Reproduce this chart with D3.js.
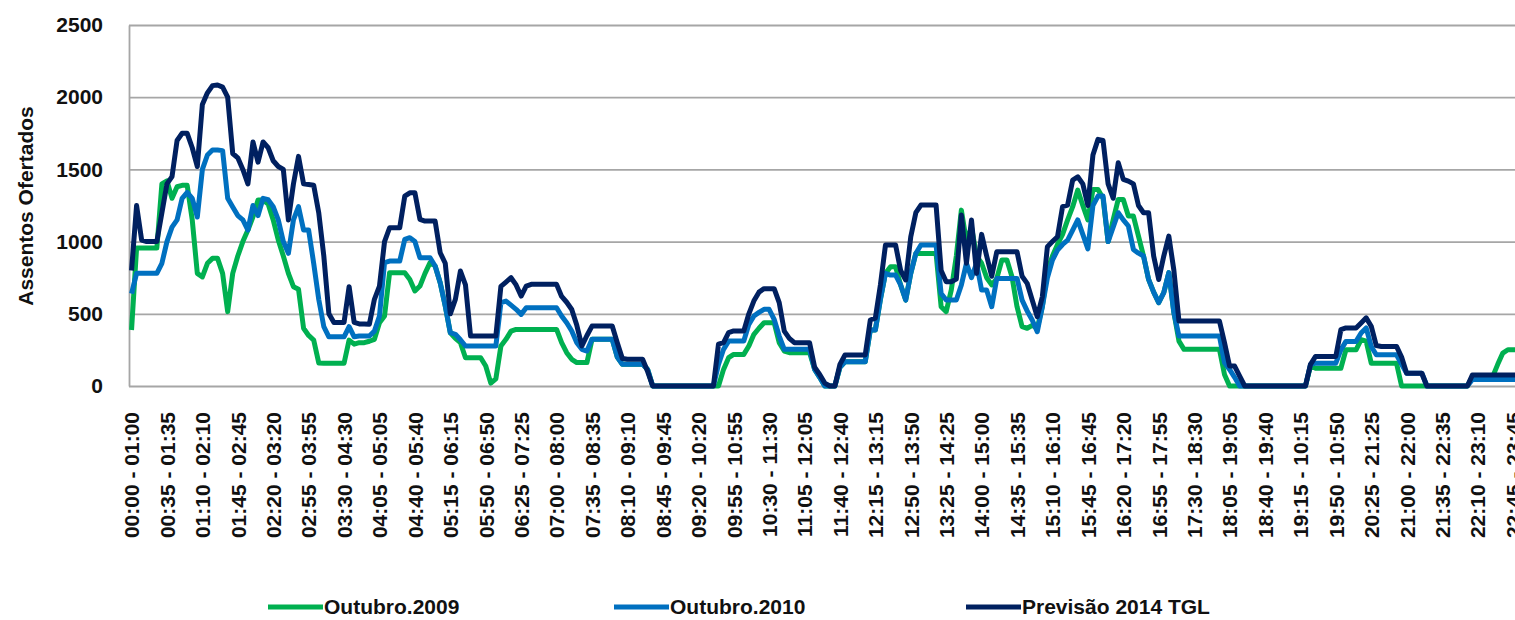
<!DOCTYPE html>
<html>
<head>
<meta charset="utf-8">
<script src="https://cdn.jsdelivr.net/npm/d3@7"></script>
<style>
body { margin: 0; background: #fff; }
svg { display: block; font-family: "Liberation Sans", Arial, sans-serif; font-weight: bold; }
</style>
</head>
<body>
<div id="chart"></div>
<script>
// categories: 5-minute windows, "HH:MM - HH+1:MM"
var categories = d3.range(277).map(function(i) {
    var h = Math.floor(i / 12), m = (i % 12) * 5;
    var pad = function(n) { return (n < 10 ? "0" : "") + n; };
    return pad(h) + ":" + pad(m) + " - " + pad(h + 1) + ":" + pad(m);
});

// one label every 7 categories (as printed on the original, typos included)
var tickLabels = [
    "00:00 - 01:00", "00:35 - 01:35", "01:10 - 02:10", "01:45 - 02:45", "02:20 - 03:20",
    "02:55 - 03:55", "03:30 - 04:30", "04:05 - 05:05", "04:40 - 05:40", "05:15 - 06:15",
    "05:50 - 06:50", "06:25 - 07:25", "07:00 - 08:00", "07:35 - 08:35", "08:10 - 09:10",
    "08:45 - 09:45", "09:20 - 10:20", "09:55 - 10:55", "10:30 - 11:30", "11:05 - 12:05",
    "11:40 - 12:40", "12:15 - 13:15", "12:50 - 13:50", "13:25 - 14:25", "14:00 - 15:00",
    "14:35 - 15:35", "15:10 - 16:10", "15:45 - 16:45", "16:20 - 17:20", "16:55 - 17:55",
    "17:30 - 18:30", "18:05 - 19:05", "18:40 - 19:40", "19:15 - 10:15", "19:50 - 10:50",
    "20:25 - 21:25", "21:00 - 22:00", "21:35 - 22:35", "22:10 - 23:10", "22:45 - 23:45"
];

var yTicks = [0, 500, 1000, 1500, 2000, 2500];

// Outubro.2009
var out2009 = [
    388, 955, 955, 955, 955, 955, 1400, 1420, 1300, 1380, 1390, 1390,
    1150, 780, 755, 850, 884, 884, 780, 515, 780, 900, 1000, 1080,
    1172, 1288, 1288, 1260, 1150, 1011, 900, 780, 688, 670, 400, 350,
    318, 160, 157, 157, 157, 157, 157, 318, 290, 300, 300, 310,
    323, 438, 485, 785, 785, 785, 785, 738, 658, 692, 780, 854,
    831, 715, 554, 369, 330, 300, 196, 196, 196, 196, 138, 20,
    50, 277, 323, 380, 392, 392, 392, 392, 392, 392, 392, 392,
    392, 300, 231, 185, 162, 162, 162, 323, 323, 323, 323, 323,
    200, 150, 150, 150, 150, 150, 115, 0, 0, 0, 0, 0,
    0, 0, 0, 0, 0, 0, 0, 0, 0, 115, 196, 219,
    219, 219, 277, 358, 400, 438, 438, 438, 300, 242, 231, 231,
    231, 231, 231, 115, 60, 0, 0, 0, 130, 168, 168, 168,
    168, 168, 388, 388, 600, 780, 826, 826, 700, 595, 780, 918,
    918, 918, 918, 918, 549, 515, 664, 900, 1218, 1000, 1100, 900,
    850, 750, 700, 745, 872, 872, 757, 549, 411, 400, 420, 400,
    549, 800, 900, 980, 1050, 1150, 1242, 1357, 1250, 1150, 1361, 1361,
    1300, 1000, 1150, 1292, 1292, 1177, 1177, 1038, 900, 738, 650, 577,
    646, 785, 508, 311, 254, 254, 254, 254, 254, 254, 254, 254,
    80, 0, 0, 0, 0, 0, 0, 0, 0, 0, 0, 0,
    0, 0, 0, 0, 0, 138, 123, 123, 123, 123, 123, 123,
    251, 251, 251, 321, 310, 158, 158, 158, 158, 158, 158, 0,
    0, 0, 0, 0, 0, 0, 0, 0, 0, 0, 0, 0,
    0, 65, 65, 65, 65, 65, 150, 228, 251, 251, 251, 251,
    251
];

// Outubro.2010
var out2010 = [
    640, 780, 780, 780, 780, 780, 850, 1000, 1100, 1150, 1300, 1340,
    1300, 1170, 1500, 1600, 1634, 1634, 1630, 1300, 1240, 1180, 1150, 1080,
    1250, 1180, 1300, 1290, 1242, 1150, 1000, 919, 1150, 1242, 1080, 1080,
    850, 600, 411, 341, 341, 341, 341, 411, 341, 346, 346, 346,
    380, 485, 854, 865, 865, 865, 1015, 1027, 1000, 888, 888, 888,
    831, 715, 554, 369, 358, 320, 277, 277, 277, 277, 277, 277,
    277, 577, 588, 560, 531, 496, 542, 542, 542, 542, 542, 542,
    542, 485, 438, 381, 300, 254, 242, 323, 323, 323, 323, 323,
    200, 150, 150, 150, 150, 150, 115, 0, 0, 0, 0, 0,
    0, 0, 0, 0, 0, 0, 0, 0, 150, 254, 311, 311,
    311, 311, 427, 485, 510, 531, 531, 462, 346, 254, 254, 254,
    254, 254, 254, 115, 60, 0, 0, 0, 130, 168, 168, 168,
    168, 168, 388, 388, 600, 780, 768, 768, 700, 595, 780, 918,
    976, 976, 976, 976, 641, 595, 595, 595, 700, 849, 750, 849,
    664, 664, 549, 745, 745, 745, 745, 745, 595, 520, 457, 376,
    549, 750, 872, 941, 980, 1011, 1080, 1150, 1050, 950, 1250, 1315,
    1315, 1000, 1100, 1200, 1150, 1108, 946, 920, 900, 738, 650, 577,
    646, 785, 508, 346, 346, 346, 346, 346, 346, 346, 346, 346,
    162, 115, 60, 0, 0, 0, 0, 0, 0, 0, 0, 0,
    0, 0, 0, 0, 0, 150, 158, 158, 158, 158, 158, 250,
    309, 309, 309, 367, 402, 274, 216, 216, 216, 216, 216, 150,
    88, 88, 88, 88, 0, 0, 0, 0, 0, 0, 0, 0,
    0, 45, 45, 45, 45, 45, 45, 45, 45, 45, 45, 45,
    45
];

// Previsão 2014 TGL
var prev2014 = [
    800, 1250, 1010, 1000, 1000, 1000, 1200, 1400, 1450, 1700, 1750, 1750,
    1650, 1520, 1950, 2030, 2080, 2085, 2070, 2000, 1610, 1580, 1500, 1400,
    1690, 1550, 1690, 1650, 1560, 1520, 1500, 1150, 1400, 1590, 1400, 1395,
    1390, 1200, 900, 500, 440, 440, 440, 688, 440, 430, 430, 427,
    600, 692, 1000, 1096, 1096, 1096, 1315, 1338, 1338, 1154, 1142, 1142,
    1142, 923, 850, 500, 600, 796, 700, 346, 346, 346, 346, 346,
    346, 690, 720, 750, 700, 623, 692, 704, 704, 704, 704, 704,
    704, 620, 580, 530, 420, 277, 350, 415, 415, 415, 415, 415,
    300, 190, 185, 185, 185, 185, 100, 0, 0, 0, 0, 0,
    0, 0, 0, 0, 0, 0, 0, 0, 290, 300, 370, 381,
    381, 381, 500, 590, 650, 674, 674, 674, 577, 380, 330, 300,
    300, 300, 300, 130, 80, 20, 0, 0, 150, 215, 215, 215,
    215, 215, 457, 470, 700, 976, 976, 976, 800, 734, 1034, 1200,
    1253, 1253, 1253, 1253, 800, 722, 722, 740, 1184, 850, 1150, 780,
    1050, 900, 760, 930, 930, 930, 930, 930, 760, 711, 595, 480,
    618, 965, 1000, 1034, 1242, 1253, 1426, 1449, 1400, 1250, 1600, 1708,
    1700, 1400, 1300, 1546, 1431, 1419, 1400, 1250, 1200, 1200, 900, 738,
    900, 1038, 800, 450, 450, 450, 450, 450, 450, 450, 450, 450,
    300, 138, 138, 69, 0, 0, 0, 0, 0, 0, 0, 0,
    0, 0, 0, 0, 0, 150, 205, 205, 205, 205, 205, 390,
    402, 402, 402, 437, 472, 414, 280, 274, 274, 274, 274, 200,
    88, 88, 88, 88, 0, 0, 0, 0, 0, 0, 0, 0,
    0, 77, 77, 77, 77, 77, 77, 77, 77, 77, 77, 77,
    77
];

var seriesNames = ["Outubro.2009", "Outubro.2010", "Previsão 2014 TGL"];
var seriesColors = ["#00b050", "#0070c0", "#002060"];
var seriesValues = [out2009, out2010, prev2014];

// SVG wrapper
var svgWidth = 1515;
var svgHeight = 620;
var margin = { top: 25, left: 129 };
var plotBottom = 386;
var step = 5.06;   // px per 5-minute category

var svg = d3.select("#chart")
    .append("svg")
    .attr("width", svgWidth)
    .attr("height", svgHeight);

// scales
var x = d3.scalePoint()
    .domain(categories)
    .range([margin.left, margin.left + step * categories.length])
    .padding(0.5);

var y = d3.scaleLinear()
    .domain([0, 2500])
    .range([plotBottom, margin.top]);

// y axis + gridlines
var yAxis = svg.append("g")
    .attr("transform", `translate(${margin.left}, 0)`)
    .call(d3.axisLeft(y)
        .tickValues(yTicks)
        .tickFormat(d3.format("d"))
        .tickSize(-(svgWidth - margin.left))
        .tickSizeOuter(0)
        .tickPadding(26));

yAxis.select(".domain").attr("stroke", "#a6a6a6").attr("stroke-width", 1.8);
yAxis.selectAll(".tick line").attr("stroke", "#a6a6a6").attr("stroke-width", 1.8);
yAxis.selectAll(".tick text")
    .attr("fill", "#111")
    .attr("font-size", "21px")
    .attr("font-weight", "bold")
    .attr("font-family", "Liberation Sans, Arial, sans-serif");

// x axis labels, rotated
var tickCats = categories.filter(function(d, i) { return i % 7 === 0; }).slice(0, tickLabels.length);

var xAxis = svg.append("g")
    .attr("transform", `translate(0, ${plotBottom})`)
    .call(d3.axisBottom(x)
        .tickValues(tickCats)
        .tickFormat(function(d, i) { return tickLabels[i]; })
        .tickSize(0));

xAxis.select(".domain").remove();
xAxis.selectAll(".tick text")
    .attr("transform", "rotate(-90)")
    .attr("x", -26)
    .attr("y", 0)
    .attr("dy", "0.35em")
    .style("text-anchor", "end")
    .attr("fill", "#111")
    .attr("font-size", "21px")
    .attr("font-weight", "bold")
    .attr("font-family", "Liberation Sans, Arial, sans-serif");

// lines
var line = d3.line()
    .x(function(d, i) { return x(categories[i]); })
    .y(function(d) { return y(d); });

seriesValues.forEach(function(vals, k) {
    svg.append("path")
        .datum(vals)
        .attr("fill", "none")
        .attr("stroke", seriesColors[k])
        .attr("stroke-width", 5)
        .attr("stroke-linejoin", "round")
        .attr("d", line);
});

// y axis title
svg.append("text")
    .attr("transform", "translate(33, 206) rotate(-90)")
    .attr("text-anchor", "middle")
    .attr("font-size", "21px")
    .attr("fill", "#111")
    .text("Assentos Ofertados");

// legend
var legendX = [268, 614, 966];
var legendY = 607;

seriesNames.forEach(function(name, k) {
    svg.append("line")
        .attr("x1", legendX[k])
        .attr("x2", legendX[k] + 55)
        .attr("y1", legendY)
        .attr("y2", legendY)
        .attr("stroke", seriesColors[k])
        .attr("stroke-width", 5);

    svg.append("text")
        .attr("x", legendX[k] + 56)
        .attr("y", legendY)
        .attr("dy", "0.35em")
        .attr("font-size", "21px")
        .attr("fill", "#111")
        .text(name);
});
</script>
</body>
</html>
